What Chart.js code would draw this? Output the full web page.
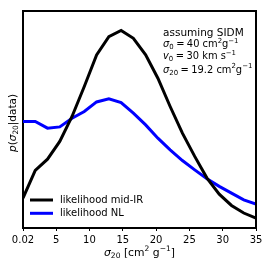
<!DOCTYPE html>
<html><head><meta charset="utf-8">
<script src="https://cdn.jsdelivr.net/npm/chart.js"></script>
<style>html,body{margin:0;padding:0;background:#fff;}#c{display:block;}</style>
</head><body>
<canvas id="c" width="269" height="269" style="width:269px;height:269px"></canvas>
<script>
const sigma20 = [0.02, 1.86, 3.70, 5.54, 7.38, 9.22, 11.07, 12.91, 14.75, 16.59, 18.43, 20.27, 22.11, 23.95, 25.80, 27.64, 29.48, 31.32, 33.16, 35.00];
const likeMidIR = [0.138, 0.265, 0.317, 0.399, 0.514, 0.652, 0.798, 0.882, 0.910, 0.874, 0.798, 0.690, 0.560, 0.437, 0.330, 0.230, 0.156, 0.104, 0.069, 0.046];
const likeNL = [0.491, 0.491, 0.460, 0.466, 0.506, 0.537, 0.581, 0.595, 0.578, 0.529, 0.475, 0.414, 0.360, 0.311, 0.268, 0.227, 0.192, 0.161, 0.130, 0.110];
const xTicks = [0.02, 5, 10, 15, 20, 25, 30, 35];
const seriesLabels = ['likelihood mid-IR', 'likelihood NL'];
const seriesColors = ['#000000', '#0000ff'];

const FONT = '"DejaVu Sans", sans-serif';

function segFont(seg, size) {
  const sz = seg.s ? size * 0.7 : size;
  return (seg.i ? 'oblique ' : '') + sz + 'px ' + FONT;
}
function drawRich(ctx, segs, x, y, size, align) {
  let total = 0;
  const widths = segs.map(sg => { ctx.font = segFont(sg, size); const w = ctx.measureText(sg.t).width; total += w; return w; });
  let cx = align === 'center' ? x - total / 2 : x;
  ctx.textBaseline = 'middle';
  ctx.textAlign = 'left';
  segs.forEach((sg, k) => {
    ctx.font = segFont(sg, size);
    let dy = 0;
    if (sg.s === 'sub') dy = size * 0.3;
    if (sg.s === 'sup') dy = -size * 0.38;
    ctx.fillText(sg.t, cx, y + dy);
    cx += widths[k];
  });
}

const annotLines = [
  [{t: 'assuming SIDM'}],
  [{t: 'σ', i: 1}, {t: '0', s: 'sub'}, {t: '\u2005=\u200540 cm'}, {t: '2', s: 'sup'}, {t: 'g'}, {t: '−1', s: 'sup'}],
  [{t: 'v', i: 1}, {t: '0', s: 'sub'}, {t: '\u2005=\u200530 km s'}, {t: '−1', s: 'sup'}],
  [{t: 'σ', i: 1}, {t: '20', s: 'sub'}, {t: '\u2005=\u200519.2 cm'}, {t: '2', s: 'sup'}, {t: 'g'}, {t: '−1', s: 'sup'}]
];
const annotY = [33.5, 44.5, 56.5, 70];
const annotSize = [10.5, 9.9, 9.9, 9.9];
const xTitle = [{t: 'σ', i: 1}, {t: '20', s: 'sub'}, {t: ' [cm'}, {t: '2', s: 'sup'}, {t: ' g'}, {t: '−1', s: 'sup'}, {t: ']'}];
const yTitle = [{t: 'p', i: 1}, {t: '('}, {t: 'σ', i: 1}, {t: '20', s: 'sub'}, {t: '|data)'}];

const decor = {
  id: 'decor',
  afterDraw(chart) {
    const ctx = chart.ctx, a = chart.chartArea;
    ctx.save();
    ctx.strokeStyle = '#000';
    ctx.lineWidth = 2;
    ctx.beginPath();
    ctx.moveTo(a.left - 1, a.top);
    ctx.lineTo(a.right, a.top);
    ctx.lineTo(a.right, a.bottom + 1);
    ctx.stroke();
    ctx.fillStyle = '#000';
    annotLines.forEach((ln, k) => drawRich(ctx, ln, 163, annotY[k], annotSize[k], 'left'));
    drawRich(ctx, xTitle, (a.left + a.right) / 2, 253, 10.8, 'center');
    ctx.save();
    ctx.translate(13, 123);
    ctx.rotate(-Math.PI / 2);
    drawRich(ctx, yTitle, 0, 0, 10.5, 'center');
    ctx.restore();
    // legend
    chart.data.datasets.forEach((ds, k) => {
      const ly = 200 + k * 13.3;
      ctx.strokeStyle = ds.borderColor;
      ctx.lineWidth = 3;
      ctx.beginPath();
      ctx.moveTo(30, ly);
      ctx.lineTo(53, ly);
      ctx.stroke();
      ctx.fillStyle = '#000';
      ctx.font = '10px ' + FONT;
      ctx.textBaseline = 'middle';
      ctx.textAlign = 'left';
      ctx.fillText(ds.label, 60, ly);
    });
    ctx.restore();
  }
};

new Chart(document.getElementById('c'), {
  type: 'line',
  data: {
    datasets: [
      {label: seriesLabels[0], data: sigma20.map((x, k) => ({x, y: likeMidIR[k]})), borderColor: seriesColors[0], borderWidth: 3, pointRadius: 0, tension: 0, fill: false},
      {label: seriesLabels[1], data: sigma20.map((x, k) => ({x, y: likeNL[k]})), borderColor: seriesColors[1], borderWidth: 3, pointRadius: 0, tension: 0, fill: false}
    ]
  },
  options: {
    responsive: false,
    animation: false,
    devicePixelRatio: 1,
    layout: {padding: {left: 0, right: 13, top: 11, bottom: 0}},
    plugins: {legend: {display: false}, tooltip: {enabled: false}},
    scales: {
      x: {
        type: 'linear', min: 0.02, max: 35,
        afterBuildTicks: s => { s.ticks = xTicks.map(v => ({value: v})); },
        afterFit: s => { s.height = 41; },
        ticks: {color: '#000', font: {family: FONT, size: 10}, padding: 3, maxRotation: 0, autoSkip: false,
          callback: v => String(v)},
        grid: {display: true, drawOnChartArea: false, drawTicks: true, tickLength: 3, color: '#000', lineWidth: 1},
        border: {display: true, color: '#000', width: 2}
      },
      y: {
        type: 'linear', min: 0, max: 1,
        afterFit: s => { s.width = 23; },
        ticks: {display: false},
        grid: {display: false},
        border: {display: true, color: '#000', width: 2}
      }
    }
  },
  plugins: [decor]
});
</script>
</body></html>
